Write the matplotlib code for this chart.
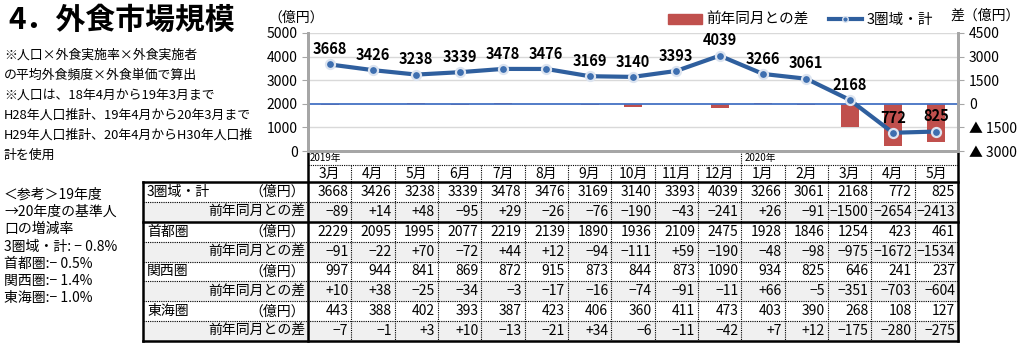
import matplotlib
matplotlib.use("Agg")
import matplotlib.pyplot as plt
import matplotlib.patches as mpatches
from matplotlib.lines import Line2D
import numpy as np

plt.rcParams['font.family'] = ['Noto Sans CJK JP', 'DejaVu Sans']

months = ['3月', '4月', '5月', '6月', '7月', '8月', '9月', '10月', '11月', '12月',
          '1月', '2月', '3月', '4月', '5月']
total = [3668, 3426, 3238, 3339, 3478, 3476, 3169, 3140, 3393, 4039, 3266, 3061, 2168, 772, 825]
total_diff = [-89, 14, 48, -95, 29, -26, -76, -190, -43, -241, 26, -91, -1500, -2654, -2413]
shuto = [2229, 2095, 1995, 2077, 2219, 2139, 1890, 1936, 2109, 2475, 1928, 1846, 1254, 423, 461]
shuto_diff = [-91, -22, 70, -72, 44, 12, -94, -111, 59, -190, -48, -98, -975, -1672, -1534]
kansai = [997, 944, 841, 869, 872, 915, 873, 844, 873, 1090, 934, 825, 646, 241, 237]
kansai_diff = [10, 38, -25, -34, -3, -17, -16, -74, -91, -11, 66, -5, -351, -703, -604]
tokai = [443, 388, 402, 393, 387, 423, 406, 360, 411, 473, 403, 390, 268, 108, 127]
tokai_diff = [-7, -1, 3, 10, -13, -21, 34, -6, -11, -42, 7, 12, -175, -280, -275]

left_ticks = [0, 1000, 2000, 3000, 4000, 5000]
right_ticks = [-3000, -1500, 0, 1500, 3000, 4500]
right_labels = ['▲ 3000', '▲ 1500', '0', '1500', '3000', '4500']

notes = ['※人口×外食実施率×外食実施者', 'の平均外食頻度×外食単価で算出',
         '※人口は、18年4月から19年3月まで', 'H28年人口推計、19年4月から20年3月まで',
         'H29年人口推計、20年4月からH30年人口推', '計を使用']
ref_notes = ['＜参考＞19年度', '→20年度の基準人', '口の増減率', '3圏域・計: − 0.8%',
             '首都圏:− 0.5%', '関西圏:− 1.4%', '東海圏:− 1.0%']

RED = '#C0504D'
BLUE = '#2F5F9E'
W, H = 1024, 350

fig = plt.figure(figsize=(W / 100, H / 100), dpi=100)

# chart area
x0, x1, ytop, ybot = 308, 958, 33, 151
ax = fig.add_axes([x0 / W, 1 - ybot / H, (x1 - x0) / W, (ybot - ytop) / H])
ax2 = ax.twinx()
x = np.arange(len(total))

ax2.bar(x, total_diff, width=0.42, color=RED, zorder=2)
ax2.axhline(0, color='#4472C4', lw=1.3, zorder=3)
ax2.set_ylim(-3000, 4500)
ax2.set_yticks(right_ticks)
ax2.set_yticklabels(right_labels, fontsize=10)
ax2.tick_params(axis='y', length=4, color='#A6A6A6', pad=4)

ax.set_zorder(ax2.get_zorder() + 1)
ax.patch.set_visible(False)
ax.plot(x, total, color=BLUE, lw=3, marker='o', ms=6.5, mfc='#3E6FB0',
        mec='#DCE4F0', mew=1.6, zorder=5)
for xi, v in zip(x, total):
    ax.annotate(str(v), (xi, v), xytext=(0, 11), textcoords='offset points',
                ha='center', va='center', fontsize=10.5, fontweight='bold')
ax.set_ylim(0, 5000)
ax.set_xlim(-0.5, len(total) - 0.5)
ax.set_yticks(left_ticks)
ax.tick_params(axis='y', labelsize=10, length=4, color='#A6A6A6')
ax.set_xticks([])
for gy in left_ticks[1:]:
    if gy != 2000:
        ax2.axhline((gy - 2000) * 1.5, color='#D9D9D9', lw=1, zorder=1)

for a in (ax, ax2):
    a.spines['top'].set_visible(False)
    for s in ('left', 'right', 'bottom'):
        a.spines[s].set_color('#A6A6A6')
        a.spines[s].set_linewidth(2)
ax2.set_xticks([])

fig.text(268 / W, 1 - 18 / H, '（億円）', fontsize=10, va='center')
fig.text(950 / W, 1 - 16 / H, '差（億円）', fontsize=10, va='center')

handles = [mpatches.Patch(color=RED, label='前年同月との差'),
           Line2D([], [], color=BLUE, lw=3, marker='o', ms=4, mfc='#3E6FB0',
                  mec='#DCE4F0', label='3圏域・計')]
fig.legend(handles=handles, loc='center left', bbox_to_anchor=(668 / W, 1 - 20 / H),
           ncol=2, frameon=False, fontsize=10.5, handlelength=2.3, columnspacing=1.4,
           handletextpad=0.3, handleheight=0.6, borderpad=0, borderaxespad=0)

# overlay in pixel coordinates for text and table
ov = fig.add_axes([0, 0, 1, 1])
ov.set_xlim(0, W)
ov.set_ylim(H, 0)
ov.axis('off')

ov.text(8, 20, '4．外食市場規模', fontsize=21.5, fontweight='bold', va='center')
for i, t in enumerate(notes):
    ov.text(4, 55 + i * 20, t, fontsize=9.3, va='center')
for i, t in enumerate(ref_notes):
    ov.text(4, 195 + i * 17.2, t, fontsize=10, va='center')

# table
tab_left = 143
col_w = (x1 - x0) / len(months)
hdr_mid = 165
hdr_bot = 182
tab_bot = 341
row_h = (tab_bot - hdr_bot) / 8

rows = [('3圏域・計', total, False), ('', total_diff, True),
        ('首都圏', shuto, False), ('', shuto_diff, True),
        ('関西圏', kansai, False), ('', kansai_diff, True),
        ('東海圏', tokai, False), ('', tokai_diff, True)]

dot = dict(color='black', lw=0.8, ls=(0, (1, 1)))
solid = dict(color='black', lw=1.8)

# header
ov.text(x0 + 2, 158, '2019年', fontsize=7, va='center')
ov.text(x0 + 10 * col_w + 3, 158, '2020年', fontsize=7, va='center')
ov.plot([x0 + 10 * col_w] * 2, [ybot, hdr_mid], **dot)
ov.plot([x0, x1], [hdr_mid, hdr_mid], **dot)
for j, m in enumerate(months):
    cx = x0 + (j + 0.5) * col_w
    ov.text(cx, (hdr_mid + hdr_bot) / 2, m, fontsize=10, ha='center', va='center')
    if j > 0:
        ov.plot([x0 + j * col_w] * 2, [hdr_mid, tab_bot], **dot)

for i, (name, vals, is_diff) in enumerate(rows):
    top = hdr_bot + i * row_h
    cy = top + row_h / 2
    if is_diff:
        ov.add_patch(mpatches.Rectangle((tab_left, top), x1 - tab_left, row_h,
                                        color='#F0F0F0', zorder=0))
        ov.text(x0 - 3, cy, '前年同月との差', fontsize=10, ha='right', va='center')
    else:
        ov.text(tab_left + 4, cy, name, fontsize=10, ha='left', va='center')
        ov.text(x0 - 3, cy, '（億円）', fontsize=10, ha='right', va='center')
    for j, v in enumerate(vals):
        s = (('+' if v > 0 else '−') + str(abs(v))) if is_diff else str(v)
        if is_diff and v == 0:
            s = '0'
        ov.text(x0 + (j + 1) * col_w - 3, cy, s, fontsize=10, ha='right', va='center')
    if i > 0:
        style = solid if i == 2 else dot
        ov.plot([tab_left, x1], [top, top], **style)

ov.plot([tab_left, x1], [hdr_bot, hdr_bot], **solid)
ov.plot([tab_left, x1], [tab_bot, tab_bot], **solid)
ov.plot([tab_left, tab_left], [hdr_bot, tab_bot], **solid)
ov.plot([x0, x0], [ybot, tab_bot], **solid)
ov.plot([x1, x1], [ybot, tab_bot], **solid)

fig.savefig('out.png', dpi=100)
